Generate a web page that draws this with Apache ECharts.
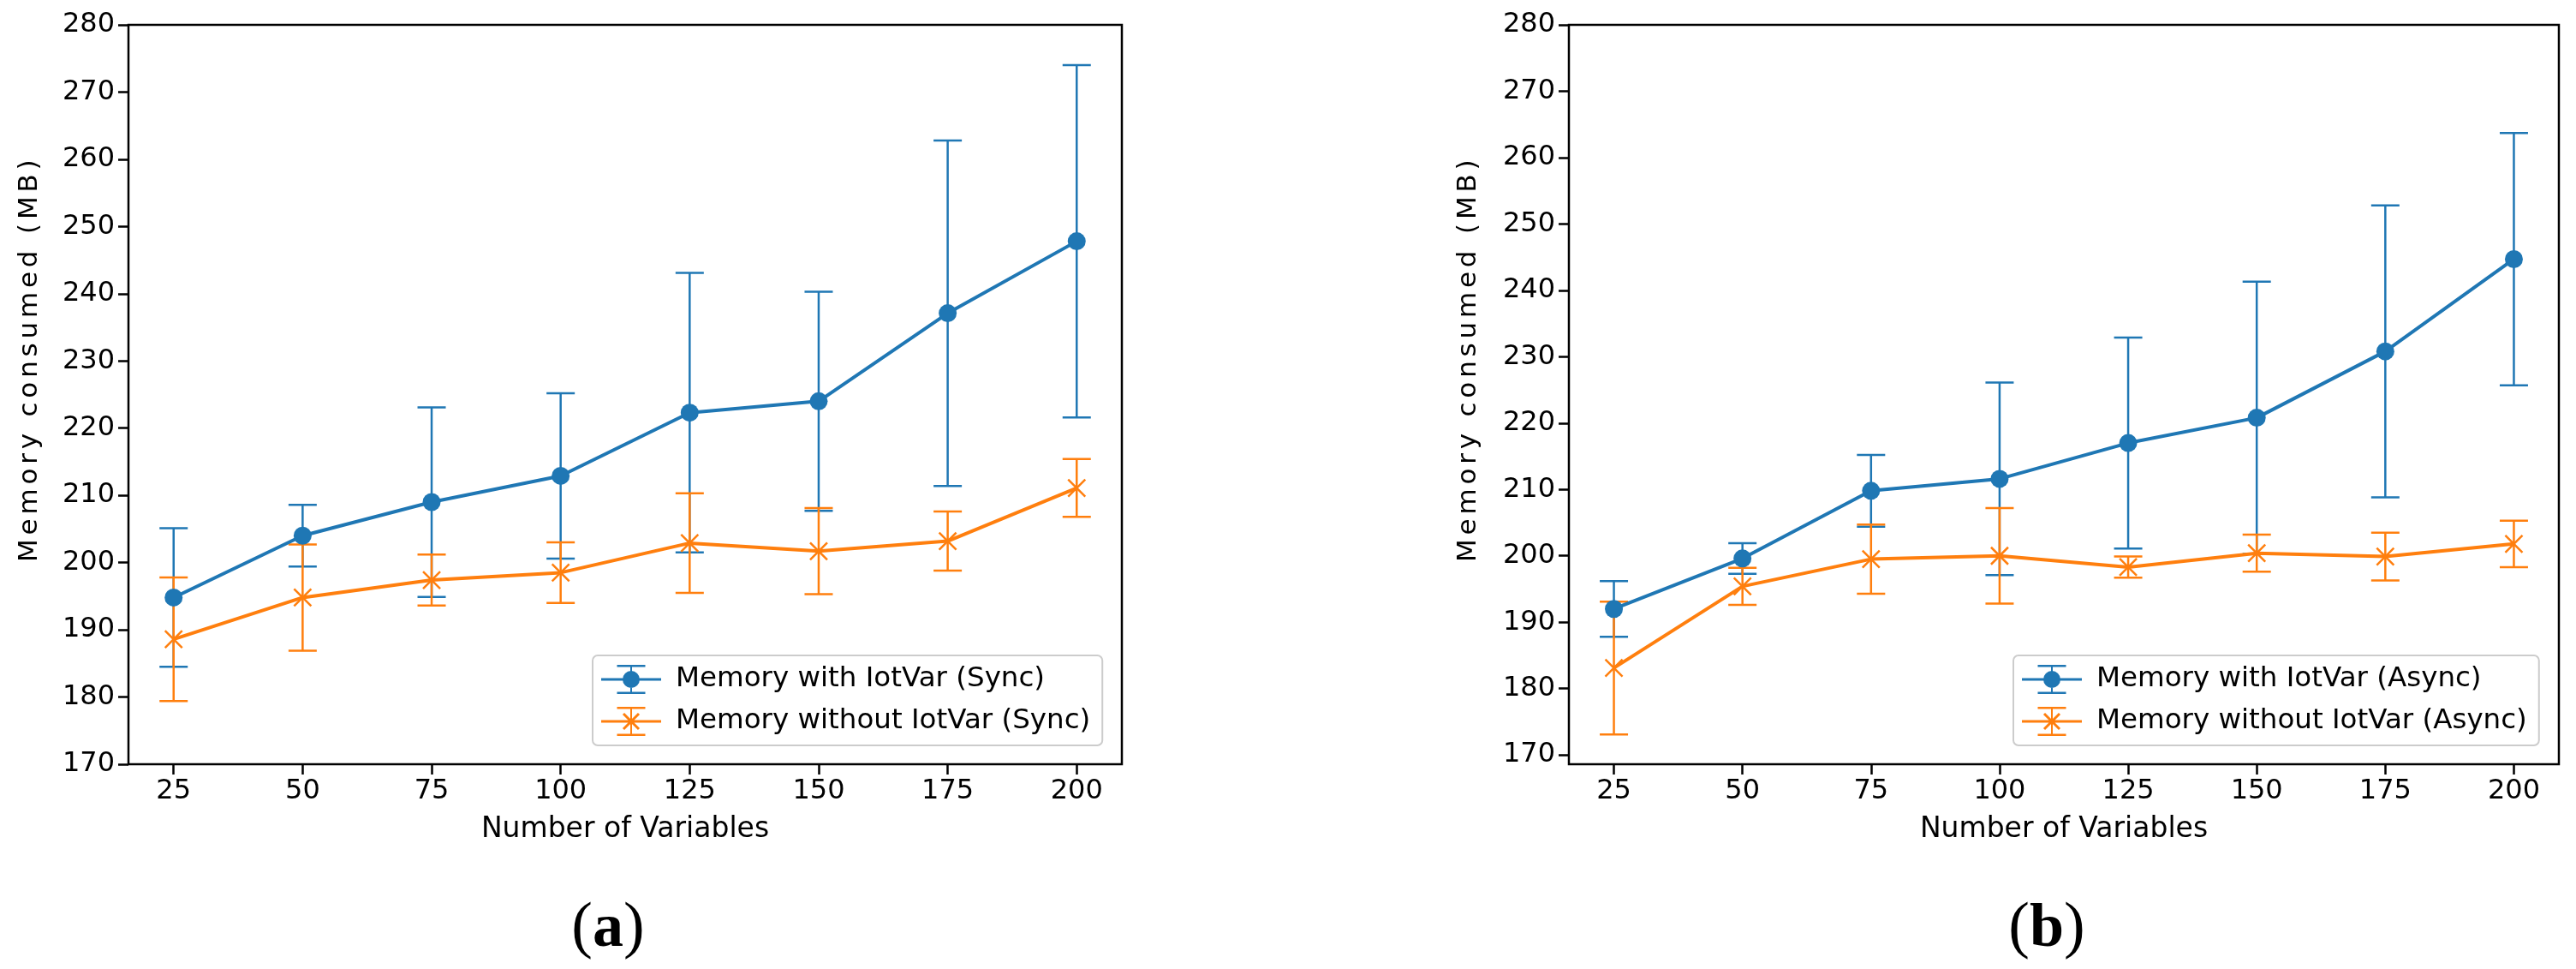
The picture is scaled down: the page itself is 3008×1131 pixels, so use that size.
<!DOCTYPE html>
<html>
<head>
<meta charset="utf-8">
<script src="https://cdn.jsdelivr.net/npm/echarts@6/dist/echarts.min.js"></script>
<style>
html,body{margin:0;padding:0;background:#fff;}
#c{width:3008px;height:1131px;}
</style>
</head>
<body>
<div id="c"></div>
<script>
// ---- data ----
const numVars = [25, 50, 75, 100, 125, 150, 175, 200];
const yTicks = [170, 180, 190, 200, 210, 220, 230, 240, 250, 260, 270, 280];

const syncWithMean    = [194.8, 204.0, 209.0, 212.9, 222.3, 224.0, 237.1, 247.8];
const syncWithErr     = [10.3, 4.6, 14.1, 12.3, 20.8, 16.3, 25.7, 26.2];
const syncWithoutMean = [188.6, 194.8, 197.4, 198.5, 202.9, 201.7, 203.2, 211.1];
const syncWithoutErr  = [9.2, 7.9, 3.8, 4.5, 7.4, 6.4, 4.4, 4.3];

const asyncWithMean    = [192.0, 199.6, 209.8, 211.6, 217.0, 220.8, 230.8, 244.7];
const asyncWithErr     = [4.2, 2.3, 5.4, 14.5, 15.9, 20.5, 22.0, 19.0];
const asyncWithoutMean = [183.1, 195.4, 199.5, 200.0, 198.3, 200.4, 199.9, 201.8];
const asyncWithoutErr  = [10.0, 2.8, 5.2, 7.2, 1.6, 2.8, 3.6, 3.5];

const names = {
  syncWith: 'Memory with IotVar (Sync)',
  syncWithout: 'Memory without IotVar (Sync)',
  asyncWith: 'Memory with IotVar (Async)',
  asyncWithout: 'Memory without IotVar (Async)'
};
const Y_LABEL = 'Memory consumed (MB)';
const X_LABEL = 'Number of Variables';

// ---- styles ----
const BLUE = '#1f77b4', ORANGE = '#ff7f0e';
const FONT = 'DejaVu Sans';
const FS = 32;

// the reference's y-axis title is drawn with wide letter spacing:
// draw that one string glyph by glyph with a small extra advance
(function () {
  const proto = CanvasRenderingContext2D.prototype;
  const orig = proto.fillText;
  const SP = 4.8;
  proto.fillText = function (t, x, y, m) {
    if (t === Y_LABEL) {
      let cx = x;
      for (const ch of t) {
        orig.call(this, ch, cx, y);
        cx += this.measureText(ch).width + SP;
      }
      return;
    }
    return (m === undefined) ? orig.call(this, t, x, y) : orig.call(this, t, x, y, m);
  };
})();

const pairs = (m) => numVars.map((x, i) => [x, m[i]]);
const triples = (m, e) => numVars.map((x, i) => [x, m[i], e[i]]);

// legend handle icons (errorbar look), 70x34 box
const iconBase = 'M0,15.5H70V18.5H0Z M34,0H36V34H34Z M18.5,0H51.5V2.5H18.5Z M18.5,31.5H51.5V34H18.5Z';
const iconCircle = iconBase + ' M25,17A10,10 0 1,1 45,17A10,10 0 1,1 25,17Z';
const iconX = iconBase + ' M27.06,6.94L45.06,24.94L42.94,27.06L24.94,9.06Z M45.06,9.06L27.06,27.06L24.94,24.94L42.94,6.94Z';

function errSeries(name, mean, err, color, idx) {
  return {
    type: 'custom',
    name: name + ' err',
    xAxisIndex: idx, yAxisIndex: idx,
    silent: true,
    z: 2,
    data: triples(mean, err),
    encode: { x: 0, y: 1 },
    renderItem: function (params, api) {
      const x = api.value(0), m = api.value(1), e = api.value(2);
      const top = api.coord([x, m + e]);
      const bot = api.coord([x, m - e]);
      const hw = 16.5;
      const st = { stroke: color, lineWidth: 2.5 };
      return {
        type: 'group',
        children: [
          { type: 'line', shape: { x1: top[0], y1: top[1], x2: bot[0], y2: bot[1] }, style: st },
          { type: 'line', shape: { x1: top[0] - hw, y1: top[1], x2: top[0] + hw, y2: top[1] }, style: st },
          { type: 'line', shape: { x1: bot[0] - hw, y1: bot[1], x2: bot[0] + hw, y2: bot[1] }, style: st }
        ]
      };
    }
  };
}

function lineSeries(name, mean, color, idx, marker) {
  const s = {
    type: 'line',
    name: name,
    xAxisIndex: idx, yAxisIndex: idx,
    data: pairs(mean),
    silent: true,
    z: 3,
    lineStyle: { color: color, width: 4 },
    itemStyle: { color: color },
    emphasis: { disabled: true }
  };
  if (marker === 'circle') {
    s.symbol = 'circle';
    s.symbolSize = 21;
  } else {
    s.symbol = 'path://M0,0L20,20M20,0L0,20';
    s.symbolSize = 20;
    s.itemStyle = { color: color, borderColor: color, borderWidth: 2.5 };
  }
  return s;
}

function xAxis(idx) {
  return {
    type: 'value', gridIndex: idx,
    min: 16.25, max: 208.75,
    name: X_LABEL, nameLocation: 'middle', nameGap: 60,
    nameTextStyle: { fontFamily: FONT, fontSize: 33, color: '#000' },
    axisLine: { show: false },
    splitLine: { show: false },
    axisTick: { show: true, customValues: numVars, length: 12, lineStyle: { color: '#000', width: 2.5 } },
    axisLabel: { customValues: numVars, margin: 16, fontFamily: FONT, fontSize: FS, color: '#000' }
  };
}

function yAxis(idx, min) {
  return {
    type: 'value', gridIndex: idx,
    min: min, max: 280,
    axisLine: { show: false },
    splitLine: { show: false },
    axisTick: { show: true, customValues: yTicks, length: 12, lineStyle: { color: '#000', width: 2.5 } },
    axisLabel: { customValues: yTicks, margin: 16, fontFamily: FONT, fontSize: FS, color: '#000' }
  };
}

function legend(left, n1, n2) {
  return {
    orient: 'vertical',
    left: left, top: 765,
    data: [
      { name: n1, icon: 'path://' + iconCircle, itemStyle: { color: BLUE, borderWidth: 0 } },
      { name: n2, icon: 'path://' + iconX, itemStyle: { color: ORANGE, borderWidth: 0 } }
    ],
    itemWidth: 70, itemHeight: 34, itemGap: 15,
    padding: [11, 14, 11, 10],
    backgroundColor: 'rgba(255,255,255,0.8)',
    borderColor: '#cccccc', borderWidth: 2, borderRadius: 6,
    selectedMode: false,
    textStyle: { fontFamily: FONT, fontSize: 32.5, color: '#000', padding: [0, 0, 0, 12] },
    itemStyle: { borderWidth: 0 }
  };
}

function yTitle(x, y) {
  return {
    type: 'text', x: x, y: y, rotation: Math.PI / 2, silent: true,
    style: { text: Y_LABEL, align: 'left', verticalAlign: 'middle', fontFamily: FONT, fontSize: 31, fill: '#000' }
  };
}

function subCaption(x, letter) {
  return {
    type: 'text', x: x, y: 1085, silent: true,
    style: {
      text: '{p|(}{b|' + letter + '}{p|)}', align: 'center', verticalAlign: 'middle',
      rich: {
        p: { fontFamily: 'Liberation Serif', fontSize: 74, fill: '#000' },
        b: { fontFamily: 'Liberation Serif', fontSize: 72, fontWeight: 'bold', fill: '#000' }
      }
    }
  };
}

const chart = echarts.init(document.getElementById('c'), null, { renderer: 'canvas' });
chart.setOption({
  animation: false,
  backgroundColor: '#fff',
  grid: [
    { left: 150, top: 29, width: 1160, height: 863, show: true, borderColor: '#000', borderWidth: 2.5, backgroundColor: 'transparent' },
    { left: 1832, top: 29, width: 1156, height: 863, show: true, borderColor: '#000', borderWidth: 2.5, backgroundColor: 'transparent' }
  ],
  xAxis: [xAxis(0), xAxis(1)],
  yAxis: [yAxis(0, 170), yAxis(1, 168.6)],
  legend: [
    legend(692, names.syncWith, names.syncWithout),
    legend(2351, names.asyncWith, names.asyncWithout)
  ],
  graphic: [
    yTitle(35, 656),
    yTitle(1715, 656),
    subCaption(710, 'a'),
    subCaption(2390, 'b')
  ],
  series: [
    errSeries(names.syncWith, syncWithMean, syncWithErr, BLUE, 0),
    errSeries(names.syncWithout, syncWithoutMean, syncWithoutErr, ORANGE, 0),
    lineSeries(names.syncWith, syncWithMean, BLUE, 0, 'circle'),
    lineSeries(names.syncWithout, syncWithoutMean, ORANGE, 0, 'x'),
    errSeries(names.asyncWith, asyncWithMean, asyncWithErr, BLUE, 1),
    errSeries(names.asyncWithout, asyncWithoutMean, asyncWithoutErr, ORANGE, 1),
    lineSeries(names.asyncWith, asyncWithMean, BLUE, 1, 'circle'),
    lineSeries(names.asyncWithout, asyncWithoutMean, ORANGE, 1, 'x')
  ]
});
</script>
</body>
</html>
